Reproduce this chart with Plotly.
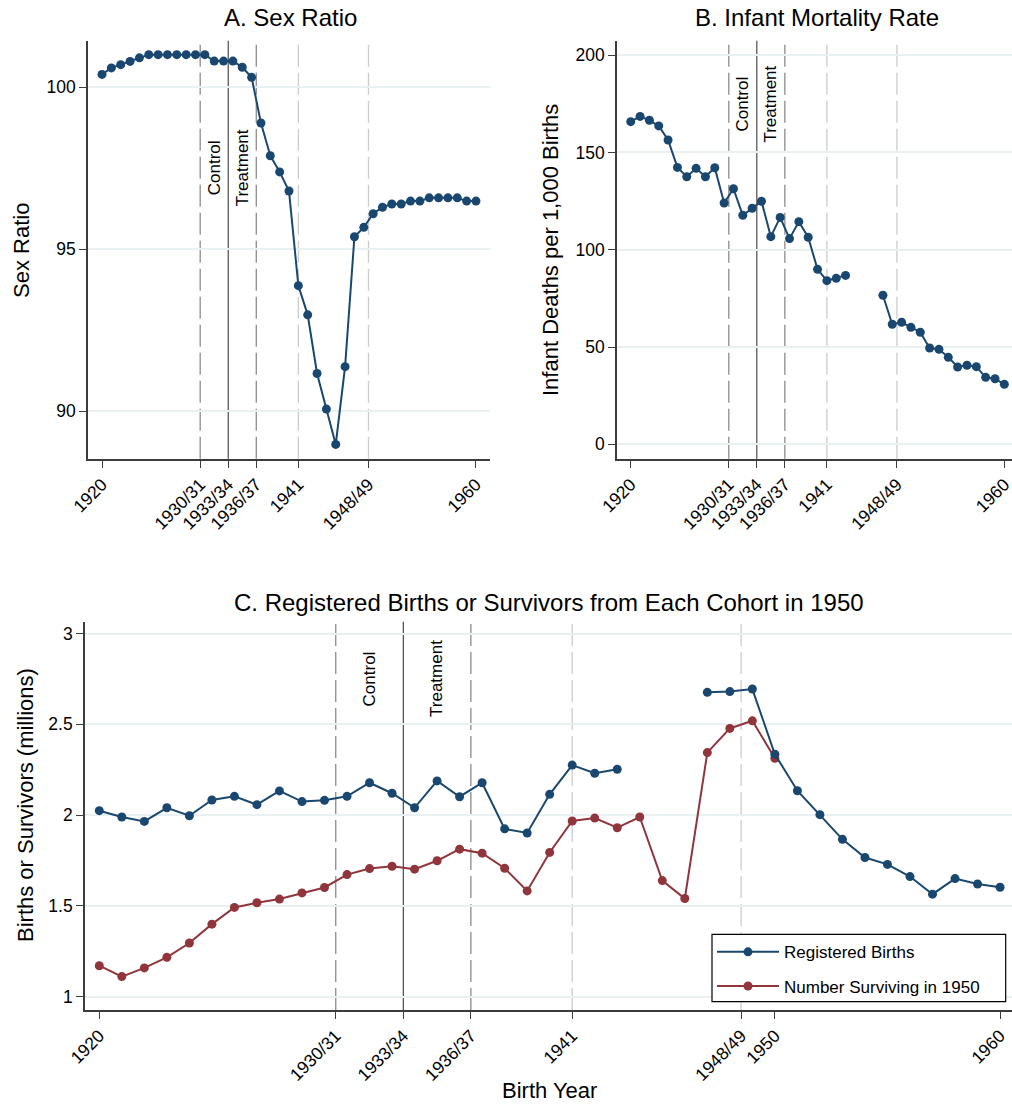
import plotly.graph_objects as go

W, H = 1012, 1104

# ---------------- data ----------------
years = list(range(1920, 1961))
sex_ratio = [100.39, 100.59, 100.69, 100.79, 100.90, 101.0, 101.0, 101.0, 101.0, 101.0,
             101.0, 101.0, 100.80, 100.80, 100.80, 100.61, 100.30, 98.89, 97.88, 97.38,
             96.79, 93.87, 92.97, 91.16, 90.06, 88.97, 91.37, 95.38, 95.67, 96.09,
             96.29, 96.39, 96.39, 96.48, 96.48, 96.58, 96.58, 96.58, 96.58, 96.48, 96.48]
infant_mortality = [165.8, 168.5, 166.5, 163.6, 156.4, 142.3, 137.5, 141.8, 137.5, 142.1,
                    124.0, 131.3, 117.7, 121.3, 124.9, 106.7, 116.6, 105.7, 114.4, 106.4,
                    89.9, 84.1, 85.3, 86.8, None, None, None, 76.6, 61.7, 62.7,
                    60.1, 57.6, 49.5, 48.8, 44.7, 39.7, 40.6, 39.9, 34.4, 33.7, 30.8]
registered_births = [2.024, 1.989, 1.965, 2.040, 1.996, 2.083, 2.103, 2.057, 2.133, 2.074,
                     2.081, 2.103, 2.178, 2.120, 2.040, 2.188, 2.101, 2.178, 1.924, 1.901,
                     2.114, 2.275, 2.230, 2.252, None, None, None, 2.676, 2.680, 2.694,
                     2.335, 2.134, 2.002, 1.866, 1.766, 1.728, 1.661, 1.564, 1.650, 1.620, 1.602]
surv_years = list(range(1920, 1951))
surviving_1950 = [1.170, 1.110, 1.158, 1.216, 1.295, 1.399, 1.491, 1.517, 1.537, 1.571,
                  1.601, 1.672, 1.705, 1.718, 1.702, 1.748, 1.812, 1.790, 1.707, 1.582,
                  1.794, 1.967, 1.983, 1.930, 1.989, 1.639, 1.540, 2.344, 2.477, 2.519, 2.313]

xtick_vals_ab = [1920, 1930.5, 1933.5, 1936.5, 1941, 1948.5, 1960]
xtick_text_ab = ["1920", "1930/31", "1933/34", "1936/37", "1941", "1948/49", "1960"]
xtick_vals_c = [1920, 1930.5, 1933.5, 1936.5, 1941, 1948.5, 1950, 1960]
xtick_text_c = ["1920", "1930/31", "1933/34", "1936/37", "1941", "1948/49", "1950", "1960"]
ytick_a = [90, 95, 100]
ytick_b = [0, 50, 100, 150, 200]
ytick_c = [1, 1.5, 2, 2.5, 3]
ytick_c_text = ["1", "1.5", "2", "2.5", "3"]

# reference lines: (x, style)
vlines = [(1930.5, "mid"), (1933.5, "solid"), (1936.5, "mid"), (1941, "light"), (1948.5, "light")]
control_x, treatment_x = 1932.0, 1935.0
label_y = {"a": 97.5, "b": 175.0, "c": 2.75}

BLUE = "#1a476f"
RED = "#90353b"
GRID = "#e8f0f2"
AXIS = "#3c3c3c"
FONT = "Liberation Sans, Arial, sans-serif"

# ---------------- layout geometry (pixels) ----------------
def fx(px):
    return px / W

def fy(py):
    return 1 - py / H

fig = go.Figure()

fig.add_trace(go.Scatter(x=years, y=sex_ratio, mode="lines+markers",
                         line=dict(color=BLUE, width=2), marker=dict(color=BLUE, size=9),
                         showlegend=False, xaxis="x", yaxis="y"))
fig.add_trace(go.Scatter(x=years, y=infant_mortality, mode="lines+markers",
                         line=dict(color=BLUE, width=2), marker=dict(color=BLUE, size=9),
                         showlegend=False, xaxis="x2", yaxis="y2"))
fig.add_trace(go.Scatter(x=surv_years, y=surviving_1950, mode="lines+markers",
                         name="Number Surviving in 1950", legendgroup="s", legendrank=2,
                         line=dict(color=RED, width=2), marker=dict(color=RED, size=9),
                         xaxis="x3", yaxis="y3"))
fig.add_trace(go.Scatter(x=years, y=registered_births, mode="lines+markers",
                         name="Registered Births", legendgroup="r", legendrank=1,
                         line=dict(color=BLUE, width=2), marker=dict(color=BLUE, size=9),
                         xaxis="x3", yaxis="y3"))

tickfont = dict(family=FONT, size=17.5, color="black")

def xaxis(dom, rng, vals, text, anchor):
    return dict(domain=dom, range=rng, tickvals=vals, ticktext=text, tickangle=-45,
                ticks="outside", ticklen=7, tickwidth=1.3, tickcolor=AXIS,
                showline=True, linecolor=AXIS, linewidth=1.6, showgrid=False,
                zeroline=False, tickfont=tickfont, anchor=anchor, fixedrange=True,
                automargin=False, ticklabeloverflow="allow")

def yaxis(dom, rng, vals, text, anchor):
    return dict(domain=dom, range=rng, tickvals=vals, ticktext=text,
                ticks="outside", ticklen=7, tickwidth=1.3, tickcolor=AXIS,
                showline=True, linecolor=AXIS, linewidth=1.6, showgrid=True,
                gridcolor=GRID, gridwidth=1.5, zeroline=False, tickfont=tickfont,
                anchor=anchor, fixedrange=True, automargin=False, ticklabeloverflow="allow")

top_ab, bot_ab = 40.7, 458.7
top_c, bot_c = 621.7, 1010.0

fig.update_layout(
    width=W, height=H, autosize=False,
    margin=dict(l=0, r=0, t=0, b=0, autoexpand=False),
    paper_bgcolor="white", plot_bgcolor="white",
    font=dict(family=FONT, color="black"),
    xaxis=xaxis([fx(88), fx(490)], [1918.5, 1961.5], xtick_vals_ab, xtick_text_ab, "y"),
    yaxis=yaxis([fy(bot_ab), fy(top_ab)], [88.53, 101.43], ytick_a, [str(v) for v in ytick_a], "x"),
    xaxis2=xaxis([fx(617), 1.0], [1918.53, 1960.82], xtick_vals_ab, xtick_text_ab, "y2"),
    yaxis2=yaxis([fy(bot_ab), fy(top_ab)], [-7.4, 207.4], ytick_b, [str(v) for v in ytick_b], "x2"),
    xaxis3=xaxis([fx(85), 1.0], [1919.365, 1960.53], xtick_vals_c, xtick_text_c, "y3"),
    yaxis3=yaxis([fy(bot_c), fy(top_c)], [0.926, 3.065], ytick_c, ytick_c_text, "x3"),
    legend=dict(x=fx(712), y=fy(934.3), xanchor="left", yanchor="top",
                borderwidth=0, bgcolor="rgba(0,0,0,0)",
                font=dict(family=FONT, size=17, color="black"),
                traceorder="grouped", tracegroupgap=9, itemwidth=62),
)

# legend frame (box extends like the reference)
fig.add_shape(type="rect", xref="paper", yref="paper",
              x0=fx(712), x1=fx(1005.7), y0=fy(1001.7), y1=fy(934.3),
              line=dict(color="black", width=1.2), fillcolor="white", layer="above")

# reference vertical lines
styles = {
    "mid": dict(color="#8c8c8c", width=1.3, dash="22px,6px"),
    "light": dict(color="#cccccc", width=1.3, dash="22px,6px"),
    "solid": dict(color="#3a3a3a", width=1.1),
}
for xr, yr in [("x", "y"), ("x2", "y2"), ("x3", "y3")]:
    for xv, st in vlines:
        fig.add_shape(type="line", xref=xr, yref=yr + " domain", x0=xv, x1=xv, y0=0, y1=1,
                      line=styles[st], layer="below")

# Control / Treatment labels
lab_font = dict(family=FONT, size=17, color="black")
for xr, yr, key in [("x", "y", "a"), ("x2", "y2", "b"), ("x3", "y3", "c")]:
    for xv, txt in [(control_x, "Control"), (treatment_x, "Treatment")]:
        fig.add_annotation(x=xv, y=label_y[key], xref=xr, yref=yr, text=txt, textangle=-90,
                           showarrow=False, font=lab_font, xanchor="center", yanchor="middle")

# titles
title_font = dict(family=FONT, size=24, color="black")
fig.add_annotation(x=fx(290), y=fy(18), xref="paper", yref="paper", text="A. Sex Ratio",
                   showarrow=False, font=title_font, xanchor="center", yanchor="middle")
fig.add_annotation(x=fx(817), y=fy(18), xref="paper", yref="paper", text="B. Infant Mortality Rate",
                   showarrow=False, font=title_font, xanchor="center", yanchor="middle")
fig.add_annotation(x=fx(549), y=fy(602), xref="paper", yref="paper",
                   text="C. Registered Births or Survivors from Each Cohort in 1950",
                   showarrow=False, font=title_font, xanchor="center", yanchor="middle")

# axis titles
ax_font = dict(family=FONT, size=22, color="black")
fig.add_annotation(x=fx(22), y=fy(251), xref="paper", yref="paper", text="Sex Ratio",
                   textangle=-90, showarrow=False, font=ax_font, xanchor="center", yanchor="middle")
fig.add_annotation(x=fx(550), y=fy(250), xref="paper", yref="paper", text="Infant Deaths per 1,000 Births",
                   textangle=-90, showarrow=False, font=ax_font, xanchor="center", yanchor="middle")
fig.add_annotation(x=fx(25), y=fy(805), xref="paper", yref="paper", text="Births or Survivors (millions)",
                   textangle=-90, showarrow=False, font=ax_font, xanchor="center", yanchor="middle")
fig.add_annotation(x=fx(549), y=fy(1090), xref="paper", yref="paper", text="Birth Year",
                   showarrow=False, font=ax_font, xanchor="center", yanchor="middle")

fig.write_html("out.html")
